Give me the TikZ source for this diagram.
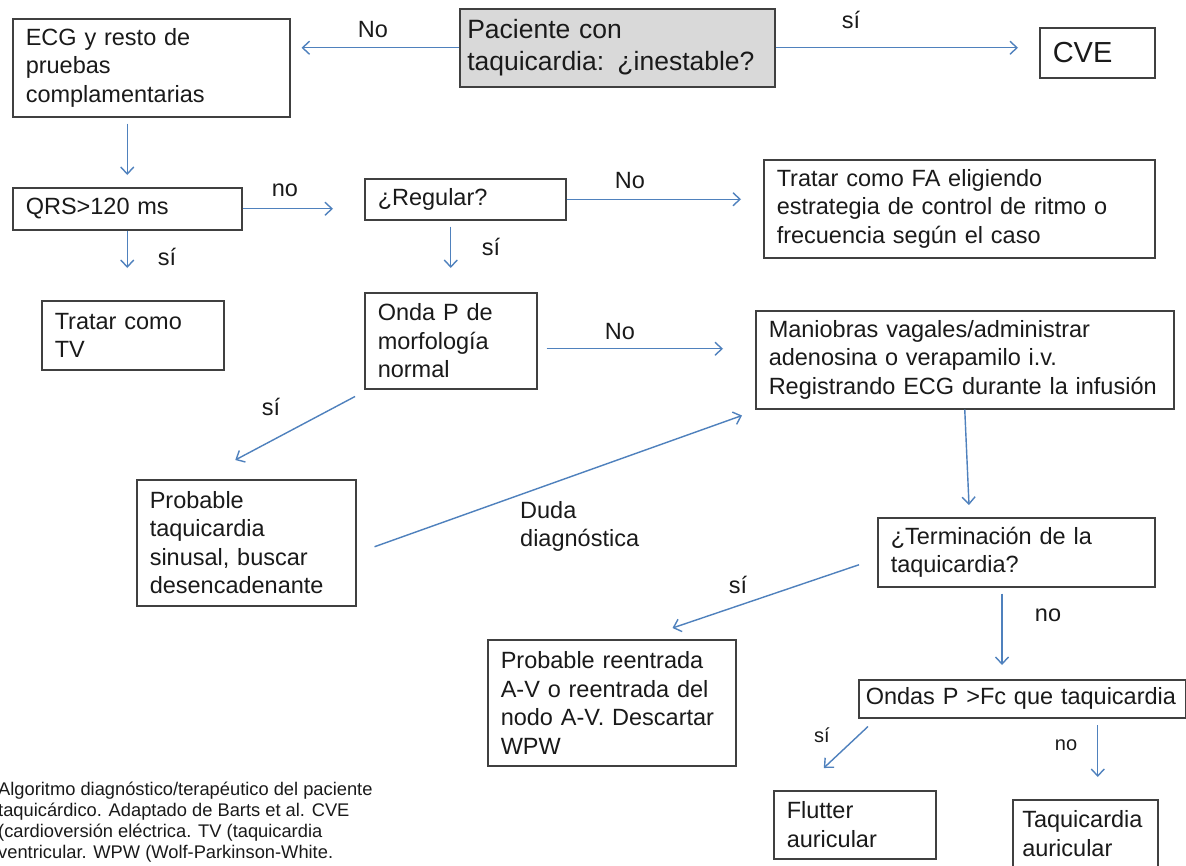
\documentclass[tikz,border=0pt]{standalone}
\usepackage{fontspec}
\setmainfont{Liberation Sans}
\usetikzlibrary{arrows.meta,calc}
\definecolor{flow}{HTML}{4F81BD}
\definecolor{edge}{HTML}{404040}
\definecolor{ink}{HTML}{1A1A1A}
\definecolor{shade}{HTML}{D9D9D9}
\hyphenpenalty=10000
\exhyphenpenalty=10000

\begin{document}
\begin{tikzpicture}[x=1pt,y=-1pt,
  box/.style={draw=edge, line width=1.5pt, text=ink, anchor=north west,
    align=left, inner xsep=13pt, inner ysep=0pt,
    font=\fontsize{23.5}{28.5}\selectfont},
  arr/.style={draw=flow, line width=1.4pt,
    -{Straight Barb[length=7pt,width=13pt]}},
  lab/.style={text=ink, inner sep=0pt, font=\fontsize{23.5}{28}\selectfont},
  smalllab/.style={text=ink, inner sep=0pt, font=\fontsize{20}{24}\selectfont}]

\useasboundingbox (0,0) rectangle (1186,865);
\fill[white] (0,0) rectangle (1186,865);
\clip (0,0) rectangle (1186,865);

% ---- boxes ----
\node[box, minimum width=277pt, minimum height=98pt, text width=251pt] (ecg) at (12,18)
  {ECG y resto de\\pruebas\\complamentarias};
\node[box, fill=shade, minimum width=315pt, minimum height=78pt, text width=300pt,
  inner xsep=7.5pt, font=\fontsize{26.5}{32}\selectfont] (pac) at (459,8)
  {Paciente con\\taquicardia: ¿inestable?};
\node[box, minimum width=115pt, minimum height=50pt, text width=89pt,
  font=\fontsize{29}{34}\selectfont] (cve) at (1039,27) {CVE};
\node[box, minimum width=229pt, minimum height=42pt, text width=203pt] (qrs) at (12,187)
  {QRS>120 ms};
\node[box, minimum width=201pt, minimum height=41pt, text width=175pt] (reg) at (364,178)
  {¿Regular?};
\node[box, minimum width=391pt, minimum height=98pt, text width=365pt] (fa) at (763,159)
  {Tratar como FA eligiendo\\estrategia de control de ritmo o\\frecuencia según el caso};
\node[box, minimum width=182pt, minimum height=69pt, text width=156pt] (tv) at (41,300)
  {Tratar como\\TV};
\node[box, minimum width=172pt, minimum height=96pt, text width=146pt] (onda) at (364,292)
  {Onda P de\\morfología\\normal};
\node[box, minimum width=418pt, minimum height=98pt, text width=392pt] (man) at (755,310)
  {Maniobras vagales/administrar\\adenosina o verapamilo i.v.\\Registrando ECG durante la infusión};
\node[box, minimum width=219pt, minimum height=126pt, text width=193pt] (sin) at (136,479)
  {Probable\\taquicardia\\sinusal, buscar\\desencadenante};
\node[box, minimum width=277pt, minimum height=69pt, text width=251pt] (ter) at (877,517)
  {¿Terminación de la\\taquicardia?};
\node[box, minimum width=248pt, minimum height=126pt, text width=222pt] (ree) at (487,639)
  {Probable reentrada\\A-V o reentrada del\\nodo A-V. Descartar\\WPW};
\node[box, minimum width=327pt, minimum height=38pt, text width=313pt, inner xsep=7pt] (ond) at (858,679)
  {Ondas P >Fc que taquicardia};
\node[box, minimum width=162pt, minimum height=68pt, text width=136pt] (flu) at (773,790)
  {Flutter\\auricular};
\node[box, minimum width=145pt, minimum height=68pt, text width=126pt, inner xsep=9.5pt] (taq) at (1012,799)
  {Taquicardia\\auricular};

% ---- connectors ----
\draw[arr, shorten >=11pt] (pac.west) -- (pac.west -| ecg.east);
\draw[arr, shorten >=21pt] (pac.east) -- (pac.east -| cve.west);
\draw[arr, shorten <=6pt, shorten >=12pt] (qrs.north |- ecg.south) -- (qrs.north);
\draw[arr, shorten >=31pt] (qrs.east) -- (qrs.east -| reg.west);
\draw[arr, shorten >=32pt] (qrs.south) -- (qrs.south |- tv.north);
\draw[arr, shorten <=6pt, shorten >=24pt] (onda.north |- reg.south) -- (onda.north);
\draw[arr, shorten >=22pt] (reg.east) -- (reg.east -| fa.west);
\draw[arr, shorten <=9pt, shorten >=32pt] ([yshift=-8pt]onda.east) -- ([yshift=-8pt]onda.east -| man.west);
\draw[arr] ($(onda.south west)+(-9,7)$) -- ($(sin.north)+(-11,-19)$);
\draw[arr] ($(sin.east)+(18,4)$) -- ($(man.south west)+(-13,6)$);
\draw[arr] (man.south) -- ($(ter.north west)+(92,-12)$);
\draw[arr] ($(ter.west)+(-18,12.5)$) -- ($(ree.north east)+(-64,-11)$);
\draw[arr] ($(ter.south west)+(125,6)$) -- ($(ond.north west)+(144,-14)$);
\draw[arr] ($(ond.south west)+(10,8)$) -- ($(flu.north)+(-31,-22)$);
\draw[arr] ($(taq.north)+(12.5,-74)$) -- ($(taq.north)+(12.5,-22)$);

% ---- branch labels ----
\node[lab] (l1) at (373,30) {No};
\node[lab] (l2) at (851,20) {sí};
\node[lab] (l3) at (285,190) {no};
\node[lab] (l4) at (167,257) {sí};
\node[lab] (l5) at (491,247) {sí};
\node[lab] (l6) at (630,181) {No};
\node[lab] (l7) at (620,332) {No};
\node[lab] (l8) at (271,407) {sí};
\node[lab, align=left, anchor=north west] (l9) at (520,501) {Duda\\diagnóstica};
\node[lab] (l10) at (738,585) {sí};
\node[lab] (l11) at (1048,615) {no};
\node[smalllab] (l12) at (822,735) {sí};
\node[smalllab] (l13) at (1066,745) {no};

% ---- caption ----
\node[text=ink, inner sep=0pt, anchor=north west, align=left,
  font=\fontsize{18.3}{20.8}\selectfont] (cap) at (-2,782)
  {Algoritmo diagnóstico/terapéutico del paciente\\taquicárdico. Adaptado de Barts et al. CVE\\(cardioversión eléctrica. TV (taquicardia\\ventricular. WPW (Wolf-Parkinson-White.};
\end{tikzpicture}
\end{document}
